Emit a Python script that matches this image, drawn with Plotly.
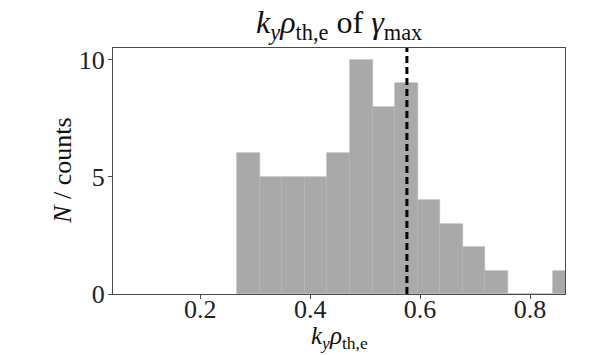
import plotly.graph_objects as go

# Histogram data
bin_edges = [0.2673, 0.3083, 0.3494, 0.3904, 0.4315, 0.4725, 0.5135, 0.5546,
             0.5956, 0.6367, 0.6777, 0.7187, 0.7598, 0.8008, 0.8419, 0.8829]
counts = [6, 5, 5, 5, 6, 10, 8, 9, 4, 3, 2, 1, 0, 0, 1]
ky_rho_gamma_max = 0.576

x_ticks = [0.2, 0.4, 0.6, 0.8]
y_ticks = [0, 5, 10]

centers = [(a + b) / 2 for a, b in zip(bin_edges[:-1], bin_edges[1:])]
widths = [b - a for a, b in zip(bin_edges[:-1], bin_edges[1:])]

FONT = "Liberation Serif"

fig = go.Figure()
fig.add_trace(go.Bar(
    x=centers, y=counts, width=widths,
    marker=dict(color="#a9a9a9", line=dict(color="#b6b6b6", width=0.6)),
    showlegend=False,
))

fig.add_shape(type="line", x0=ky_rho_gamma_max, x1=ky_rho_gamma_max,
              y0=0, y1=1, xref="x", yref="y domain",
              line=dict(color="black", width=3, dash="7px,4px"))

axis_common = dict(
    showgrid=False, zeroline=False, showline=True, mirror=True,
    linecolor="#4a4a4a", linewidth=1, automargin=False,
    ticks="outside", ticklen=4, tickcolor="#4a4a4a",
    tickfont=dict(family=FONT, size=26, color="#222"),
)

fig.update_layout(
    width=598, height=355,
    margin=dict(l=113, r=33, t=48, b=61),
    plot_bgcolor="white", paper_bgcolor="white",
    bargap=0,
    xaxis=dict(range=[0.0413, 0.8636], tickvals=x_ticks,
               ticktext=[f"{v:.1f}" for v in x_ticks],
               ticklabelstandoff=-12, **axis_common),
    yaxis=dict(range=[0, 10.5], tickvals=y_ticks, ticklabelstandoff=-2,
               **axis_common),
    annotations=[
        dict(text="<i>k</i><sub><i>y</i></sub><i>ρ</i><sub>th,e</sub> of <i>γ</i><sub>max</sub>",
             font=dict(family=FONT, size=32, color="#111"),
             x=0.5, xref="paper", xanchor="center",
             y=1.0, yref="paper", yanchor="bottom", yshift=1, showarrow=False),
        dict(text="<i>k</i><sub><i>y</i></sub><i>ρ</i><sub>th,e</sub>",
             font=dict(family=FONT, size=25, color="#111"),
             x=0.5, xref="paper", xanchor="center",
             y=-0.175, yref="paper", yanchor="middle", showarrow=False),
        dict(text="<i>N</i> / counts", textangle=-90,
             font=dict(family=FONT, size=26, color="#111"),
             x=-0.113, xref="paper", xanchor="center",
             y=0.5, yref="paper", yanchor="middle", showarrow=False),
    ],
)

fig.write_html("out.html", config={"displayModeBar": False},
               post_script="document.body.style.margin='0px';")
